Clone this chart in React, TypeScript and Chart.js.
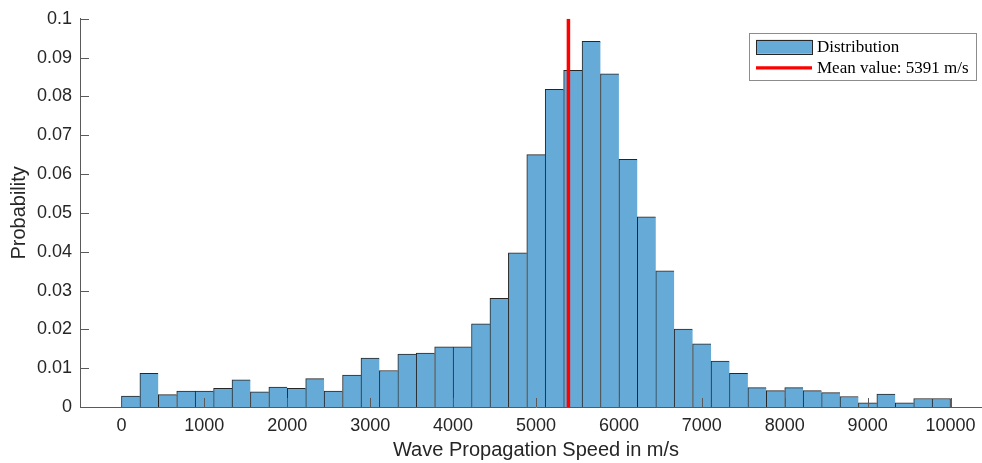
import React, { useEffect, useRef } from 'react';
import { Chart, registerables } from 'chart.js';

Chart.register(...registerables);

// ---- data ----
const binLimits = [0, 10000];
const numBins = 45;
const probabilities = [
  0.0028, 0.0087, 0.0032, 0.0041, 0.0041, 0.0048, 0.0070, 0.0039, 0.0051, 0.0048,
  0.0073, 0.0041, 0.0082, 0.0126, 0.0094, 0.0136, 0.0139, 0.0155, 0.0155, 0.0214,
  0.0280, 0.0397, 0.0650, 0.0818, 0.0867, 0.0942, 0.0858, 0.0638, 0.0490, 0.0351,
  0.0201, 0.0163, 0.0118, 0.0087, 0.0050, 0.0042, 0.0050, 0.0042, 0.0037, 0.0027,
  0.0011, 0.0033, 0.0011, 0.0022, 0.0022,
];
const meanSpeed = 5391;
const xTickValues = [0, 1000, 2000, 3000, 4000, 5000, 6000, 7000, 8000, 9000, 10000];
const yTickValues = [0, 0.01, 0.02, 0.03, 0.04, 0.05, 0.06, 0.07, 0.08, 0.09, 0.1];
const yTickLabels = ['0', '0.01', '0.02', '0.03', '0.04', '0.05', '0.06', '0.07', '0.08', '0.09', '0.1'];
const xRange = [-500, 10500];
const yRange = [0, 0.1];
const xAxisTitle = 'Wave Propagation Speed in m/s';
const yAxisTitle = 'Probability';
const distributionLabel = 'Distribution';
const meanLabel = `Mean value: ${meanSpeed} m/s`;

const binWidth = (binLimits[1] - binLimits[0]) / numBins;
const binCenters = probabilities.map((_, i) => binLimits[0] + (i + 0.5) * binWidth);

const SANS = "'Liberation Sans', Arial, sans-serif";
const SERIF = "'Liberation Serif', 'Times New Roman', serif";
const TEXT = '#262626';
const AXIS = '#5a5a5a';
const BAR_FILL = '#66AAD7';
const BAR_EDGE = '#262626';
const MEAN_COLOR = '#ff0000';

const inwardTicks = {
  id: 'inwardTicks',
  afterDatasetsDraw(chart: any) {
    const { ctx, chartArea, scales } = chart;
    ctx.save();
    ctx.strokeStyle = AXIS;
    ctx.lineWidth = 1;
    ctx.beginPath();
    scales.x.ticks.forEach((t: any) => {
      const px = Math.round(scales.x.getPixelForValue(t.value)) + 0.5;
      ctx.moveTo(px, chartArea.bottom);
      ctx.lineTo(px, chartArea.bottom - 9);
    });
    scales.y.ticks.forEach((t: any) => {
      const py = Math.round(scales.y.getPixelForValue(t.value)) + 0.5;
      ctx.moveTo(chartArea.left, py);
      ctx.lineTo(chartArea.left + 9, py);
    });
    ctx.stroke();
    ctx.restore();
  },
};

const boxLegend = {
  id: 'boxLegend',
  afterDraw(chart: any) {
    const { ctx, chartArea } = chart;
    const ds = chart.data.datasets;
    const bar = ds.find((d: any) => d.type === 'bar');
    const line = ds.find((d: any) => d.type === 'line');
    const left = chartArea.right - 243;
    const top = chartArea.top + 14;
    const w = 227;
    const h = 47;
    ctx.save();
    ctx.fillStyle = '#ffffff';
    ctx.fillRect(left, top, w, h);
    ctx.strokeStyle = '#8c8c8c';
    ctx.lineWidth = 1;
    ctx.strokeRect(Math.round(left) + 0.5, Math.round(top) + 0.5, w, h);
    // bar swatch
    ctx.fillStyle = bar.backgroundColor;
    ctx.fillRect(left + 7, top + 7, 56, 14);
    ctx.strokeStyle = bar.borderColor;
    ctx.strokeRect(Math.round(left + 7) + 0.5, Math.round(top + 7) + 0.5, 56, 14);
    // line swatch
    ctx.strokeStyle = line.borderColor;
    ctx.lineWidth = 3.3;
    ctx.beginPath();
    ctx.moveTo(left + 7, top + 35);
    ctx.lineTo(left + 63, top + 35);
    ctx.stroke();
    // texts
    ctx.fillStyle = '#000000';
    ctx.font = `17px ${SERIF}`;
    ctx.textBaseline = 'middle';
    ctx.textAlign = 'left';
    ctx.fillText(bar.label, left + 68, top + 14.5);
    ctx.fillText(line.label, left + 68, top + 35.5);
    ctx.restore();
  },
};

export default function App() {
  const canvasRef = useRef<HTMLCanvasElement | null>(null);

  useEffect(() => {
    if (!canvasRef.current) return;
    const chart = new Chart(canvasRef.current, {
      type: 'bar',
      data: {
        datasets: [
          {
            type: 'line',
            label: meanLabel,
            data: [
              { x: meanSpeed, y: yRange[0] },
              { x: meanSpeed, y: yRange[1] },
            ],
            borderColor: MEAN_COLOR,
            backgroundColor: MEAN_COLOR,
            borderWidth: 3.5,
            pointRadius: 0,
            order: 0,
          } as any,
          {
            type: 'bar',
            label: distributionLabel,
            data: binCenters.map((x, i) => ({ x, y: probabilities[i] })),
            backgroundColor: BAR_FILL,
            borderColor: BAR_EDGE,
            borderWidth: (c: any) => ({
              top: 1,
              left: 1,
              right: c.dataIndex === probabilities.length - 1 ? 1 : 0,
              bottom: 0,
            }),
            borderSkipped: false,
            barPercentage: 1,
            categoryPercentage: 1,
            grouped: false,
            order: 1,
          } as any,
        ],
      },
      options: {
        responsive: false,
        animation: false,
        devicePixelRatio: 1,
        layout: { padding: { top: 18, left: 0, right: 0, bottom: 0 } },
        plugins: {
          legend: { display: false },
          tooltip: { enabled: false },
        },
        scales: {
          x: {
            type: 'linear',
            offset: false,
            min: xRange[0],
            max: xRange[1],
            afterBuildTicks: (s: any) => {
              s.ticks = xTickValues.map((v) => ({ value: v }));
            },
            afterFit: (s: any) => {
              s.height = 56;
            },
            ticks: {
              autoSkip: false,
              maxRotation: 0,
              padding: 8,
              color: TEXT,
              font: { family: SANS, size: 18 },
              callback: (v: any) => String(v),
            },
            grid: { display: false, drawTicks: false, offset: false },
            border: { display: true, color: AXIS, width: 1 },
            title: {
              display: true,
              text: xAxisTitle,
              color: TEXT,
              font: { family: SANS, size: 20 },
              padding: { top: 0, bottom: 1 },
            },
          },
          y: {
            type: 'linear',
            min: yRange[0],
            max: yRange[1],
            afterBuildTicks: (s: any) => {
              s.ticks = yTickValues.map((v) => ({ value: v }));
            },
            afterFit: (s: any) => {
              s.width = 80;
            },
            ticks: {
              autoSkip: false,
              padding: 8,
              color: TEXT,
              font: { family: SANS, size: 18 },
              callback: (_v: any, i: number) => yTickLabels[i],
            },
            grid: { display: false, drawTicks: false },
            border: { display: true, color: AXIS, width: 1 },
            title: {
              display: true,
              text: yAxisTitle,
              color: TEXT,
              font: { family: SANS, size: 20 },
              padding: { top: 7, bottom: 0 },
            },
          },
        },
      } as any,
      plugins: [inwardTicks, boxLegend],
    });
    return () => chart.destroy();
  }, []);

  return (
    <div
      style={{
        position: 'fixed',
        left: 0,
        top: 0,
        width: 982,
        height: 463,
        overflow: 'hidden',
        background: '#ffffff',
      }}
    >
      <canvas ref={canvasRef} width={992} height={463} style={{ width: 992, height: 463, display: 'block' }} />
    </div>
  );
}
